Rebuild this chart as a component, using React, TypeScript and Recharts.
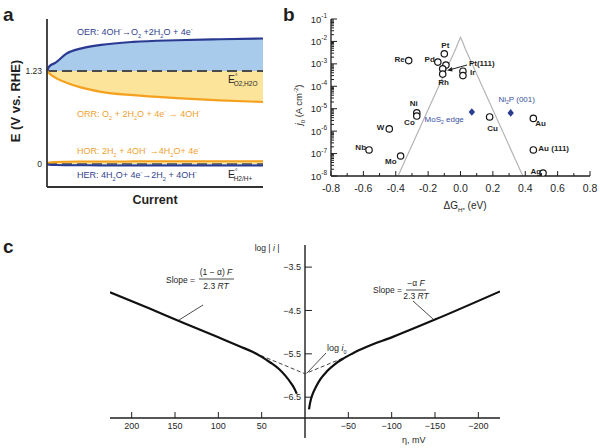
import React from "react";
import { ComposedChart, Area, Line, Scatter, XAxis, YAxis, ReferenceLine } from "recharts";

const FONT = '"Liberation Sans", Arial, Helvetica, sans-serif';
const INK = "#1f1f1f";

// ---- panel a: potential windows vs current
const currentSteps = [0, 0.01, 0.04, 0.09, 0.16, 0.25, 0.4, 0.6, 0.8, 1];
const oerPotential = [1.23, 1.29, 1.34, 1.46, 1.53, 1.575, 1.615, 1.637, 1.65, 1.66];
const orrPotential = [1.23, 1.2, 1.14, 1.075, 1.01, 0.955, 0.91, 0.872, 0.842, 0.82];
const horPotential = [0, 0.02, 0.027, 0.031, 0.033, 0.034, 0.035, 0.036, 0.037, 0.037];
const herPotential = [0, -0.01, -0.014, -0.016, -0.017, -0.018, -0.018, -0.019, -0.019, -0.02];
const potentialTicks = [0, 1.23];

// ---- panel b: volcano plot
const metalNames = ["Pt", "Pd", "Pt(111)", "", "Rh", "Ir", "", "Re", "Ni", "Co", "W", "Nb", "Mo", "Cu", "Au", "Au (111)", "Ag"];
const metalDeltaG = [-0.1, -0.14, -0.09, -0.11, -0.11, 0.015, 0.015, -0.32, -0.27, -0.27, -0.44, -0.565, -0.37, 0.18, 0.45, 0.45, 0.51];
const metalJ0 = [2.8e-3, 1.2e-3, 8.9e-4, 6.0e-4, 3.5e-4, 4.7e-4, 3.0e-4, 1.4e-3, 6.5e-6, 4.7e-6, 1.26e-6, 1.45e-7, 7.8e-8, 4.3e-6, 3.7e-6, 1.45e-7, 1.35e-8];
const catalystNames = ["MoS2 edge", "Ni2P (001)"];
const catalystDeltaG = [0.07, 0.31];
const catalystJ0 = [7.1e-6, 6.5e-6];
const volcanoDeltaG = [-0.386, -0.03, -0.012, 0, 0.012, 0.03, 0.385];
const volcanoJ0 = [1e-8, 4.6e-3, 1.0e-2, 1.5e-2, 1.0e-2, 4.6e-3, 1e-8];
const deltaGTicks = [-0.8, -0.7, -0.6, -0.5, -0.4, -0.3, -0.2, -0.1, 0, 0.1, 0.2, 0.3, 0.4, 0.5, 0.6, 0.7, 0.8];
const j0Decades = [1e-8, 1e-7, 1e-6, 1e-5, 1e-4, 1e-3, 1e-2, 1e-1];

// ---- panel c: Tafel plot
const anodicEta = [225, 180, 140, 100, 75, 60, 50, 40, 30, 22, 16, 12, 9.5];
const anodicLogI = [-4.08, -4.45, -4.79, -5.12, -5.33, -5.46, -5.57, -5.7, -5.85, -6.02, -6.18, -6.31, -6.42];
const cathodicEta = [-4.6, -6, -9, -13, -18, -25, -35, -45, -55, -70, -100, -150, -225];
const cathodicLogI = [-6.78, -6.62, -6.42, -6.25, -6.08, -5.91, -5.73, -5.6, -5.49, -5.35, -5.12, -4.71, -4.06];
const tafelEta = [58, 0, -58];
const tafelLogI = [-5.48, -5.96, -5.48];
const etaTicks = [200, 150, 100, 50, -50, -100, -150, -200];
const logITicks = [-3.5, -4.5, -5.5, -6.5];

const windowRows = currentSteps.map((c, i) => ({
  c,
  oer: oerPotential[i],
  orr: orrPotential[i],
  hor: horPotential[i],
  her: herPotential[i],
  oerBand: [1.23, oerPotential[i]],
  orrBand: [orrPotential[i], 1.23],
  horBand: [0, horPotential[i]],
  herBand: [herPotential[i], 0],
}));
const metalRows = metalNames.map((name, i) => ({ name, g: metalDeltaG[i], j: metalJ0[i] }));
const catalystRows = catalystNames.map((name, i) => ({ name, g: catalystDeltaG[i], j: catalystJ0[i] }));
const volcanoRows = volcanoDeltaG.map((g, i) => ({ g, j: volcanoJ0[i] }));
const j0Minor = j0Decades.slice(0, 7).flatMap((d) => [2, 3, 4, 5, 6, 7, 8, 9].map((m) => m * d));
const anodicRows = anodicEta.map((eta, i) => ({ eta, v: anodicLogI[i] }));
const cathodicRows = cathodicEta.map((eta, i) => ({ eta, v: cathodicLogI[i] }));
const tafelRows = tafelEta.map((eta, i) => ({ eta, v: tafelLogI[i] }));

// label placement for the volcano points (relative to marker)
const pointLabels: Record<string, { dx: number; dy: number; anchor: string }> = {
  Pt: { dx: 1, dy: -9, anchor: "middle" },
  Pd: { dx: -3, dy: -3, anchor: "end" },
  "Pt(111)": { dx: 23, dy: -2, anchor: "start" },
  Rh: { dx: 1, dy: 8, anchor: "middle" },
  Ir: { dx: 7, dy: 1, anchor: "start" },
  Re: { dx: -4, dy: -2, anchor: "end" },
  Ni: { dx: -3, dy: -10, anchor: "middle" },
  Co: { dx: -2, dy: 6, anchor: "end" },
  W: { dx: -5, dy: -2, anchor: "end" },
  Nb: { dx: -3, dy: -3, anchor: "end" },
  Mo: { dx: -4, dy: 5, anchor: "end" },
  Cu: { dx: 3, dy: 11, anchor: "middle" },
  Au: { dx: 2, dy: 5, anchor: "start" },
  "Au (111)": { dx: 5, dy: -2, anchor: "start" },
  Ag: { dx: -2, dy: -2, anchor: "end" },
  "MoS2 edge": { dx: -8, dy: 7, anchor: "end" },
  "Ni2P (001)": { dx: 6, dy: -14, anchor: "middle" },
};

type Part = string | { sub?: string; sup?: string; it?: string; dx?: number };

function rich(parts: Part[], size: number) {
  let shift = 0;
  return parts.map((p, i) => {
    if (typeof p === "string") {
      const el = (
        <tspan key={i} dy={-shift} fontSize={size}>
          {p}
        </tspan>
      );
      shift = 0;
      return el;
    }
    if (p.it) {
      const el = (
        <tspan key={i} dy={-shift} fontSize={size} fontStyle="italic">
          {p.it}
        </tspan>
      );
      shift = 0;
      return el;
    }
    const d = p.sub ? size * 0.3 : -size * 0.42;
    const el = (
      <tspan key={i} dy={d - shift} dx={p.dx} fontSize={size * 0.62}>
        {p.sub ?? p.sup}
      </tspan>
    );
    shift = d;
    return el;
  });
}

const labelParts = (name: string): Part[] => {
  if (name === "MoS2 edge") return ["MoS", { sub: "2" }, " edge"];
  if (name === "Ni2P (001)") return ["Ni", { sub: "2" }, "P (001)"];
  return [name];
};

const renderMarker = (blue: boolean) => (p: any) => {
  const name: string = p.payload?.name ?? p.name ?? "";
  const pos = pointLabels[name];
  const { cx, cy } = p;
  return (
    <g>
      {blue ? (
        <path d={`M${cx},${cy - 3.8}L${cx + 3.2},${cy}L${cx},${cy + 3.8}L${cx - 3.2},${cy}Z`} fill="#2b3c8e" />
      ) : (
        <circle cx={cx} cy={cy} r={3.2} fill="#fff" stroke="#151515" strokeWidth={1.2} />
      )}
      {pos && (
        <text
          x={cx + pos.dx}
          y={cy + pos.dy + 3}
          textAnchor={pos.anchor as any}
          fontFamily={FONT}
          fontSize={8}
          fontWeight={blue ? 400 : 700}
          fill={blue ? "#3a4f9e" : INK}
        >
          {rich(labelParts(name), 8)}
        </text>
      )}
    </g>
  );
};

const isMajorLog = (v: number) => Math.abs(Math.log10(v) - Math.round(Math.log10(v))) < 1e-6;

const leftLogTick = (p: any) => {
  const v = p.payload.value;
  const major = isMajorLog(v);
  return (
    <g>
      <line x1={p.x} x2={p.x + (major ? 6 : 3)} y1={p.y} y2={p.y} stroke={INK} strokeWidth={1} />
      {major && (
        <text x={p.x - 4} y={p.y + 3.5} textAnchor="end" fontFamily={FONT} fontSize={9.5} fill={INK}>
          10
          <tspan dy={-4.5} fontSize={6.5}>
            {Math.round(Math.log10(v))}
          </tspan>
        </text>
      )}
    </g>
  );
};

const rightLogTick = (p: any) => {
  const major = isMajorLog(p.payload.value);
  return <line x1={p.x} x2={p.x - (major ? 6 : 3)} y1={p.y} y2={p.y} stroke={INK} strokeWidth={1} />;
};

const isMajorG = (v: number) => Math.abs(Math.round(v * 10)) % 2 === 0;

const bottomGTick = (p: any) => {
  const v = p.payload.value;
  const major = isMajorG(v);
  return (
    <g>
      <line x1={p.x} x2={p.x} y1={p.y} y2={p.y - (major ? 5 : 3)} stroke={INK} strokeWidth={1} />
      {major && (
        <text x={p.x} y={p.y + 16} textAnchor="middle" fontFamily={FONT} fontSize={10.5} fill={INK}>
          {v.toFixed(1)}
        </text>
      )}
    </g>
  );
};

const topGTick = (p: any) => (
  <line x1={p.x} x2={p.x} y1={p.y} y2={p.y + (isMajorG(p.payload.value) ? 5 : 3)} stroke={INK} strokeWidth={1} />
);

const etaTick = (p: any) => (
  <g>
    <line x1={p.x} x2={p.x} y1={p.y} y2={p.y - 6} stroke={INK} strokeWidth={1} />
    <text x={p.x} y={p.y + 10.5} textAnchor="middle" fontFamily={FONT} fontSize={9} fill={INK}>
      {p.payload.value < 0 ? "\u2212" + Math.abs(p.payload.value) : p.payload.value}
    </text>
  </g>
);

function PanelA() {
  return (
    <div style={{ position: "absolute", left: 0, top: 0 }}>
      <ComposedChart width={270} height={212} data={windowRows} margin={{ top: 19, right: 7, bottom: 0, left: 0 }}>
        <XAxis dataKey="c" type="number" domain={[0, 1]} tick={false} tickLine={false} height={25} axisLine={{ stroke: "#333", strokeWidth: 1.8 }} />
        <XAxis xAxisId="top" orientation="top" dataKey="c" type="number" domain={[0, 1]} tick={false} tickLine={false} height={0} axisLine={{ stroke: "#333", strokeWidth: 1.8 }} />
        <YAxis
          type="number"
          domain={[-0.304, 1.918]}
          ticks={potentialTicks}
          tickLine={false}
          tickSize={0}
          tickMargin={5}
          width={47}
          tickFormatter={(v: number) => (v === 0 ? "0" : v.toFixed(2))}
          tick={{ fontSize: 8.5, fill: INK, fontFamily: FONT }}
          axisLine={{ stroke: "#333", strokeWidth: 1.8 }}
          allowDataOverflow
        />
        <YAxis yAxisId="right" orientation="right" type="number" domain={[-0.304, 1.918]} tick={false} tickLine={false} width={0} axisLine={{ stroke: "#333", strokeWidth: 1.8 }} />
        <Area dataKey="oerBand" type="monotone" fill="#a9cbeb" fillOpacity={1} stroke="none" isAnimationActive={false} />
        <Area dataKey="orrBand" type="monotone" fill="#fde49b" fillOpacity={1} stroke="none" isAnimationActive={false} />
        <Area dataKey="horBand" type="monotone" fill="#fde49b" fillOpacity={1} stroke="none" isAnimationActive={false} />
        <Area dataKey="herBand" type="monotone" fill="#a9cbeb" fillOpacity={1} stroke="none" isAnimationActive={false} />
        <ReferenceLine y={1.23} stroke="#4a4a4a" strokeWidth={2} strokeDasharray="10 5" />
        <ReferenceLine y={0} stroke="#4a4a4a" strokeWidth={1.6} strokeDasharray="10 5" />
        <Line dataKey="oer" type="monotone" stroke="#2a3a91" strokeWidth={2.2} dot={false} isAnimationActive={false} />
        <Line dataKey="orr" type="monotone" stroke="#f5a11f" strokeWidth={2.2} dot={false} isAnimationActive={false} />
        <Line dataKey="hor" type="monotone" stroke="#f5a11f" strokeWidth={2} dot={false} isAnimationActive={false} />
        <Line dataKey="her" type="monotone" stroke="#2a3a91" strokeWidth={2} dot={false} isAnimationActive={false} />
      </ComposedChart>
    </div>
  );
}

function PanelB() {
  return (
    <div style={{ position: "absolute", left: 250, top: 0 }}>
      <ComposedChart width={350} height={212} margin={{ top: 19, right: 10, bottom: 0, left: 0 }}>
        <XAxis
          dataKey="g"
          type="number"
          domain={[-0.8, 0.8]}
          ticks={deltaGTicks}
          interval={0}
          tickSize={0}
          tickMargin={0}
          tickLine={false}
          tick={bottomGTick}
          height={36}
          axisLine={{ stroke: INK, strokeWidth: 1.3 }}
          allowDataOverflow
        />
        <XAxis
          xAxisId="top"
          orientation="top"
          dataKey="g"
          type="number"
          domain={[-0.8, 0.8]}
          ticks={deltaGTicks}
          interval={0}
          tickSize={0}
          tickMargin={0}
          tickLine={false}
          tick={topGTick}
          height={0}
          axisLine={{ stroke: INK, strokeWidth: 1.3 }}
          allowDataOverflow
        />
        <YAxis
          dataKey="j"
          scale="log"
          type="number"
          domain={[1e-8, 1e-1]}
          ticks={[...j0Decades, ...j0Minor]}
          interval={0}
          tickSize={0}
          tickMargin={0}
          tickLine={false}
          tick={leftLogTick}
          width={81}
          axisLine={{ stroke: INK, strokeWidth: 1.3 }}
          allowDataOverflow
        />
        <YAxis
          yAxisId="right"
          orientation="right"
          dataKey="j"
          scale="log"
          type="number"
          domain={[1e-8, 1e-1]}
          ticks={[...j0Decades, ...j0Minor]}
          interval={0}
          tickSize={0}
          tickMargin={0}
          tickLine={false}
          tick={rightLogTick}
          width={0}
          axisLine={{ stroke: INK, strokeWidth: 1.3 }}
          allowDataOverflow
        />
        <Line data={volcanoRows} dataKey="j" type="linear" stroke="#b4b4b4" strokeWidth={1.2} dot={false} isAnimationActive={false} />
        <Scatter data={metalRows} dataKey="j" shape={renderMarker(false)} isAnimationActive={false} />
        <Scatter data={catalystRows} dataKey="j" shape={renderMarker(true)} isAnimationActive={false} />
      </ComposedChart>
    </div>
  );
}

function PanelC() {
  return (
    <div style={{ position: "absolute", left: 0, top: 215 }}>
      <ComposedChart width={600} height={233} margin={{ top: 30, right: 100, bottom: 0, left: 110 }}>
        <XAxis
          dataKey="eta"
          type="number"
          domain={[-225, 225]}
          reversed
          ticks={etaTicks}
          interval={0}
          tickSize={0}
          tickMargin={0}
          tickLine={false}
          tick={etaTick}
          height={30}
          axisLine={{ stroke: INK, strokeWidth: 1.4 }}
          allowDataOverflow
        />
        <YAxis type="number" domain={[-6.98, -2.99]} hide allowDataOverflow />
        <ReferenceLine segment={[{ x: 0, y: -2.99 }, { x: 0, y: -7.44 }]} ifOverflow="visible" stroke={INK} strokeWidth={1.4} />
        {logITicks.map((t) => (
          <ReferenceLine
            key={t}
            segment={[{ x: 0, y: t }, { x: -8, y: t }]}
            ifOverflow="visible"
            stroke={INK}
            strokeWidth={1}
            label={{ value: "\u2212" + Math.abs(t).toFixed(1), position: "left", offset: 4, fontSize: 9, fill: INK, fontFamily: FONT }}
          />
        ))}
        <Line data={tafelRows} dataKey="v" type="linear" stroke="#444" strokeWidth={1} strokeDasharray="4 2.5" dot={false} isAnimationActive={false} />
        <Line data={anodicRows} dataKey="v" type="monotone" stroke="#111" strokeWidth={2.2} dot={false} isAnimationActive={false} />
        <Line data={cathodicRows} dataKey="v" type="monotone" stroke="#111" strokeWidth={2.2} dot={false} isAnimationActive={false} />
      </ComposedChart>
    </div>
  );
}

function Overlay() {
  const orange = "#f0a130";
  const navy = "#33428f";
  return (
    <svg width={600} height={448} style={{ position: "absolute", left: 0, top: 0, pointerEvents: "none" }} fontFamily={FONT}>
      {/* panel a */}
      <text x={3} y={21} fontSize={19} fontWeight={700} fill={INK}>a</text>
      <text transform="translate(20,101) rotate(-90)" textAnchor="middle" fontSize={13} fontWeight={700} fill={INK}>E (V vs. RHE)</text>
      <text x={155} y={204} textAnchor="middle" fontSize={12.5} fontWeight={700} fill={INK}>Current</text>
      <text x={77} y={35} fill={navy}>{rich(["OER: 4OH", { sup: "-" }, "\u2192O", { sub: "2" }, " +2H", { sub: "2" }, "O + 4e", { sup: "-" }], 9)}</text>
      <text x={77} y={117} fill={orange}>{rich(["ORR: O", { sub: "2" }, " + 2H", { sub: "2" }, "O + 4e", { sup: "-" }, " \u2192 4OH", { sup: "-" }], 9)}</text>
      <text x={77} y={154} fill={orange}>{rich(["HOR: 2H", { sub: "2" }, " + 4OH", { sup: "-" }, " \u21924H", { sub: "2" }, "O+ 4e", { sup: "-" }], 9)}</text>
      <text x={77} y={178} fill={navy}>{rich(["HER: 4H", { sub: "2" }, "O+ 4e", { sup: "-" }, "\u21922H", { sub: "2" }, " + 4OH", { sup: "-" }], 9)}</text>
      <text x={228} y={83} fill={INK}>{rich(["E", { sup: "\u00b0" }, { sub: "O2,H2O", dx: -4 }], 10.5)}</text>
      <text x={228} y={178} fill={INK}>{rich(["E", { sup: "\u00b0" }, { sub: "H2/H+", dx: -4 }], 10.5)}</text>

      {/* panel b */}
      <text x={283} y={21} fontSize={19} fontWeight={700} fill={INK}>b</text>
      <text transform="translate(302,105) rotate(-90)" textAnchor="middle" fill={INK}>
        {rich([{ it: "j" }, { sub: "0" }, " (A cm", { sup: "-2" }, ")"], 9.5)}
      </text>
      <text x={465} y={209} textAnchor="middle" fill={INK}>{rich(["\u0394G", { sub: "H*" }, " (eV)"], 10)}</text>
      <line x1={467} y1={65} x2={449} y2={70} stroke={INK} strokeWidth={1} />
      <path d="M447,70.5 L452,67 L452.5,71.5 Z" fill={INK} />

      {/* panel c */}
      <text x={3} y={253} fontSize={19} fontWeight={700} fill={INK}>c</text>
      <text x={267} y={251} textAnchor="middle" fontSize={8.5} fill={INK}>
        log | <tspan fontStyle="italic">i</tspan> |
      </text>
      <text x={166} y={283} fontSize={8.5} fill={INK}>Slope =</text>
      <text x={216} y={275} textAnchor="middle" fontSize={8.5} fill={INK}>
        (1 {"\u2212"} {"\u03b1"}) <tspan fontStyle="italic">F</tspan>
      </text>
      <line x1={199} x2={234} y1={279} y2={279} stroke={INK} strokeWidth={0.8} />
      <text x={216} y={289} textAnchor="middle" fontSize={8.5} fill={INK}>
        2.3 <tspan fontStyle="italic">RT</tspan>
      </text>
      <line x1={203} y1={305} x2={179} y2={320} stroke={INK} strokeWidth={0.8} />

      <text x={373} y={293} fontSize={8.5} fill={INK}>Slope =</text>
      <text x={416} y={286} textAnchor="middle" fontSize={8.5} fill={INK}>
        {"\u2212\u03b1"} <tspan fontStyle="italic">F</tspan>
      </text>
      <line x1={406} x2={426} y1={290} y2={290} stroke={INK} strokeWidth={0.8} />
      <text x={416} y={299} textAnchor="middle" fontSize={8.5} fill={INK}>
        2.3 <tspan fontStyle="italic">RT</tspan>
      </text>
      <line x1={413} y1={301} x2={433} y2={319} stroke={INK} strokeWidth={0.8} />

      <text x={327} y={351} fill={INK}>{rich(["log ", { it: "i" }, { sub: "0" }], 9)}</text>
      <line x1={326} y1={353} x2={307} y2={373} stroke={INK} strokeWidth={0.8} />
      <text x={402} y={443} fontSize={9} fill={INK}>{"\u03b7, mV"}</text>
    </svg>
  );
}

export default function App() {
  return (
    <div style={{ position: "absolute", left: 0, top: 0, width: 600, height: 448, background: "#fff", fontFamily: FONT }}>
      <PanelA />
      <PanelB />
      <PanelC />
      <Overlay />
    </div>
  );
}
